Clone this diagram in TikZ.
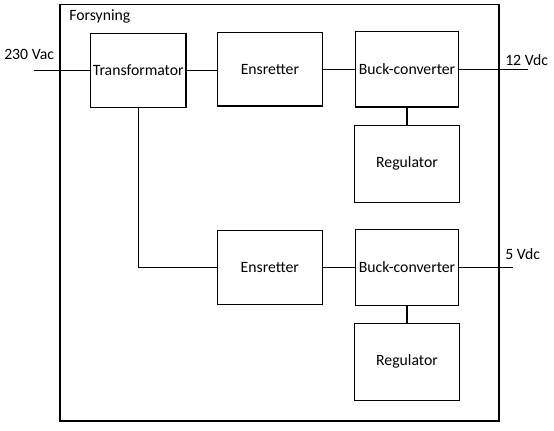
\documentclass[tikz,border=0pt]{standalone}
\usepackage{fontspec}
\setmainfont{Carlito}
\begin{document}
\begin{tikzpicture}[x=0.75pt,y=-0.75pt,
  blk/.style={draw,line width=0.9pt,minimum width=#1*0.75pt,inner sep=0pt,font=\fontsize{11.8}{14}\selectfont},
  lbl/.style={anchor=west,inner sep=0pt,font=\fontsize{11.8}{14}\selectfont},
  wire/.style={line width=0.9pt}]
\useasboundingbox (0,0) rectangle (554,431);
\draw[wire] (60,4.5) rectangle (499,421);
\node[lbl] (fs) at (69,16.5) {Forsyning};
\node[blk=95.5,minimum height=74*0.75pt] (t) at (138.25,70.5) {Transformator};
\node[blk=105.5,minimum height=73.5*0.75pt] (e1) at (269.9,69.3) {Ensretter};
\node[blk=102.6,minimum height=75.5*0.75pt] (b1) at (407,69.3) {Buck-converter};
\node[blk=105,minimum height=77*0.75pt] (r1) at (407,163.8) {Regulator};
\node[blk=105,minimum height=74*0.75pt] (e2) at (269.8,267.3) {Ensretter};
\node[blk=103,minimum height=76*0.75pt] (b2) at (407,267.3) {Buck-converter};
\node[blk=105,minimum height=77*0.75pt] (r2) at (407,361.7) {Regulator};
\coordinate (in) at (34,70.5);
\coordinate (o12) at (528,69.3);
\coordinate (o5) at (513,267.3);
\node[lbl] (l230) at (4,54.5) {230 Vac};
\node[lbl] (l12) at (505,60) {12 Vdc};
\node[lbl] (l5) at (505,254) {5 Vdc};
\draw[wire] (in) -- (t.west);
\draw[wire] (t.east) -- (t.east -| e1.west);
\draw[wire] (e1.east) -- (b1.west);
\draw[wire] (b1.east) -- (o12);
\draw[wire] (b1.south) -- (r1.north);
\draw[wire] (t.south) -- (t.south |- e2.west) -- (e2.west);
\draw[wire] (e2.east) -- (b2.west);
\draw[wire] (b2.east) -- (o5);
\draw[wire] (b2.south) -- (r2.north);
\end{tikzpicture}
\end{document}
